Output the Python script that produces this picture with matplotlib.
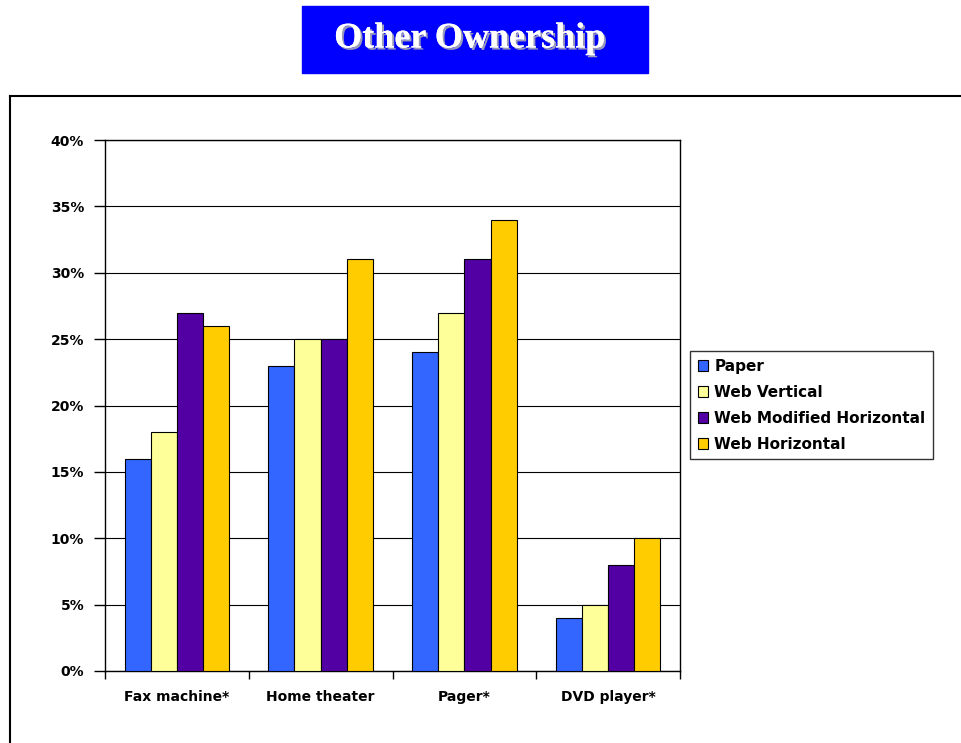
import numpy as np
import matplotlib
matplotlib.use("Agg")
import matplotlib.pyplot as plt
import matplotlib.patheffects as pe
from matplotlib.lines import Line2D
from matplotlib.ticker import FixedLocator, PercentFormatter

categories = ["Fax machine*", "Home theater", "Pager*", "DVD player*"]
series = ["Paper", "Web Vertical", "Web Modified Horizontal", "Web Horizontal"]
paper = [16, 23, 24, 4]
web_vertical = [18, 25, 27, 5]
web_mod_horizontal = [27, 25, 31, 8]
web_horizontal = [26, 31, 34, 10]
colors = ["#3366FF", "#FFFF99", "#5200A3", "#FFCC00"]

plt.rcParams['font.family'] = ['DejaVu Sans']

W, H = 961, 743
fig = plt.figure(figsize=(W / 100, H / 100), dpi=100)

# outer frame (top and left edges only, the rest runs off the page)
fig.add_artist(Line2D([10 / W, 10 / W], [0, 1 - 96 / H], color="black", lw=1.5,
                      transform=fig.transFigure))
fig.add_artist(Line2D([10 / W, 1], [1 - 96 / H, 1 - 96 / H], color="black", lw=1.5,
                      transform=fig.transFigure))

# title banner
fig.patches.append(plt.Rectangle((302 / W, 1 - 73 / H), 346 / W, 67 / H,
                                 color="#0000FF", transform=fig.transFigure))
fig.text(470 / W, 1 - 39 / H, "Other Ownership", ha="center", va="center",
         family="Liberation Serif", fontweight="bold", fontsize=26, color="white",
         path_effects=[pe.withSimplePatchShadow(offset=(1.5, -1.5), shadow_rgbFace="#9999BB", alpha=1),
                       pe.Normal()])

ax = fig.add_axes([105 / W, 1 - 671 / H, 575 / W, 531 / H])
x = np.arange(len(categories))
bw = 0.182
data = [paper, web_vertical, web_mod_horizontal, web_horizontal]
for i, (vals, name) in enumerate(zip(data, series)):
    ax.bar(x + (i - 1.5) * bw, vals, bw, color=colors[i], edgecolor="black",
           linewidth=0.8, label=name, zorder=3)

ax.set_xlim(-0.5, len(categories) - 0.5)
ax.set_ylim(0, 40)
ax.yaxis.set_major_locator(FixedLocator(np.arange(0, 41, 5)))
ax.yaxis.set_major_formatter(PercentFormatter(decimals=0))
ax.grid(axis="y", color="black", lw=0.8, zorder=0)
ax.set_xticks(x)
ax.set_xticklabels(categories, fontweight="bold", fontsize=10)
ax.tick_params(axis="x", length=0, pad=14)
ax.xaxis.set_minor_locator(FixedLocator(np.arange(-0.5, len(categories), 1)))
ax.tick_params(axis="x", which="minor", length=6, direction="out", width=1)
ax.tick_params(axis="y", length=8, direction="out", width=1, pad=7, labelsize=10)
for lab in ax.get_yticklabels():
    lab.set_fontweight("bold")
for s in ax.spines.values():
    s.set_linewidth(1)

leg = ax.legend(loc="upper left", bbox_to_anchor=(690 / W, 1 - 351 / H),
                bbox_transform=fig.transFigure, frameon=True, fancybox=False,
                edgecolor="black", fontsize=11, handlelength=0.7, handleheight=0.7,
                handletextpad=0.4, borderpad=0.5, labelspacing=0.72, borderaxespad=0)
leg.get_frame().set_linewidth(1)
for t in leg.get_texts():
    t.set_fontweight("bold")

fig.savefig("out.png", dpi=100)
